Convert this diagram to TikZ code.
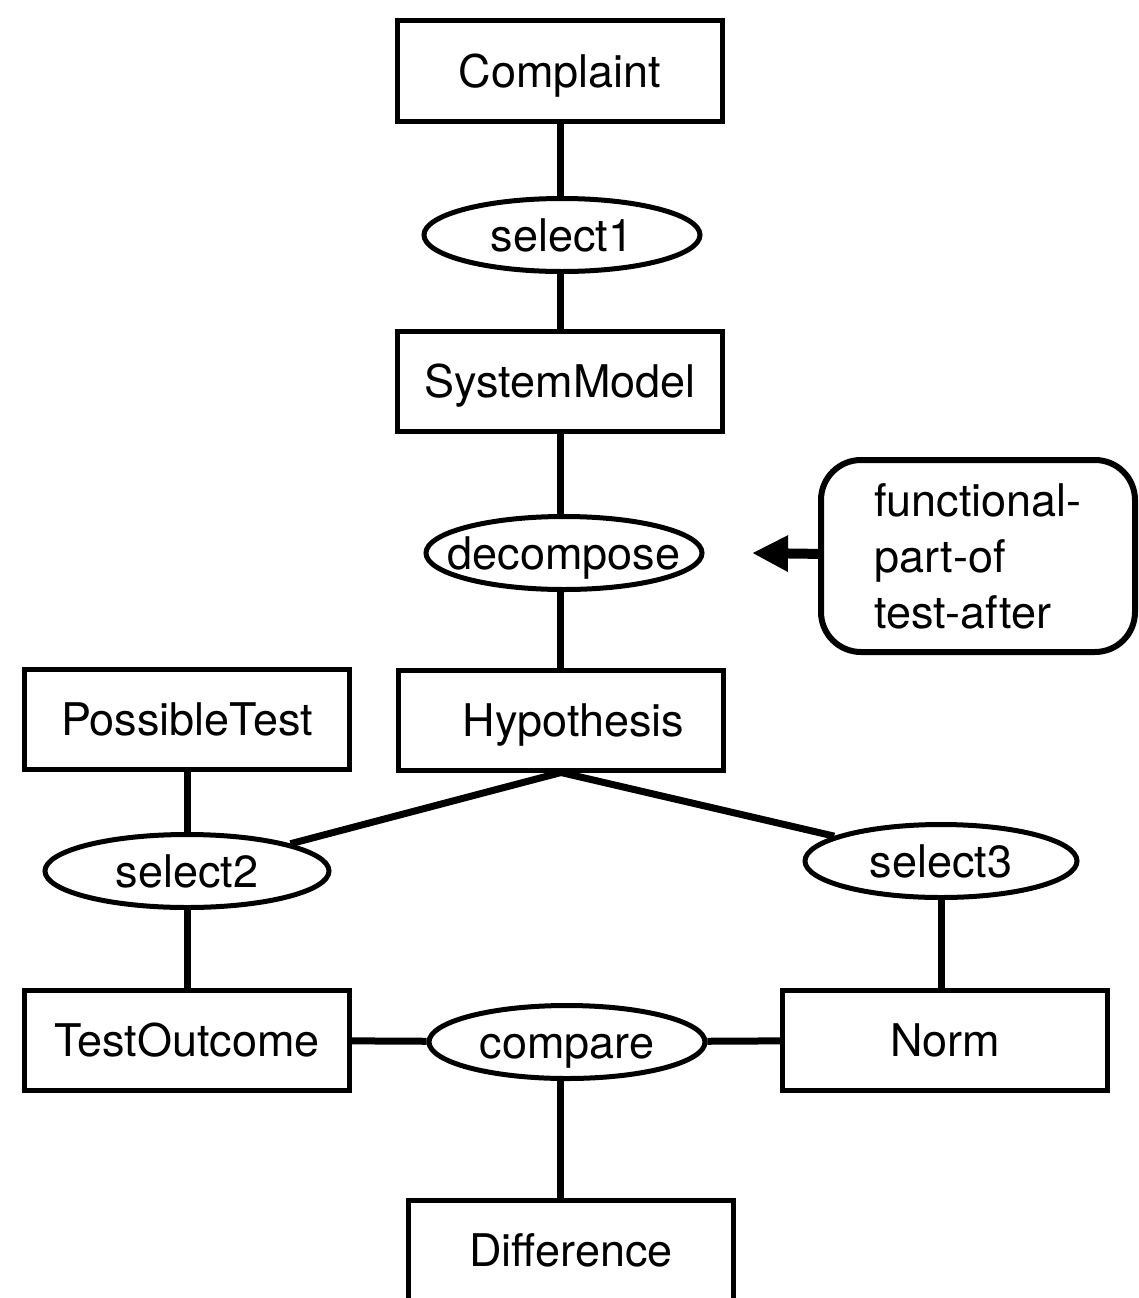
\documentclass[tikz,border=0pt]{standalone}
\usepackage{fontspec}
\setmainfont{TeX Gyre Heros}
\usetikzlibrary{shapes.geometric}
\usetikzlibrary{arrows.meta}

\begin{document}
\begin{tikzpicture}[x=1pt,y=-1pt,
        font=\fontsize{45}{56}\selectfont,
        cbox/.style={rectangle,draw,line width=5pt,minimum width=325pt,minimum height=100pt,inner sep=0pt,text height=33pt,text depth=0pt},
        rel/.style={ellipse,draw,line width=5pt,minimum width=276pt,minimum height=73pt,inner xsep=-50pt,inner ysep=0pt,text height=33pt,text depth=0pt},
        link/.style={line width=7pt}]
        \useasboundingbox (0,0) rectangle (1138,1298);

        \node[cbox] (complaint) at (560,71) {Complaint};
        \node[rel] (select1) at (562,235) {select1};
        \node[cbox] (sysmodel) at (560,381) {SystemModel};
        \node[rel] (decompose) at (564,553) {decompose};
        \node[cbox] (hypo) at (561,720) {\hspace*{25pt}Hypothesis};
        \node[cbox] (posstest) at (187,719) {PossibleTest};
        \node[rel,minimum width=284pt] (select2) at (187,871) {select2};
        \node[rel,minimum width=272pt] (select3) at (941,861) {select3};
        \node[cbox] (outcome) at (187,1040) {TestOutcome};
        \node[rel] (compare) at (567,1042) {compare};
        \node[cbox] (norm) at (945,1040) {Norm};
        \node[cbox] (diff) at (571,1250) {Difference};
        \node[rectangle,draw,line width=6pt,rounded corners=40pt,minimum width=314pt,minimum height=192pt,align=left] (note) at (978,556) {functional-\\part-of\\test-after};
        \coordinate (tip) at (752,553);

        \draw[link] (complaint) -- (complaint |- select1.north);
        \draw[link] (complaint |- select1.south) -- (sysmodel);
        \draw[link] (sysmodel) -- (sysmodel |- decompose.north);
        \draw[link] (sysmodel |- decompose.south) -- (hypo.north -| sysmodel);
        \draw[link] (hypo.south) -- (select2);
        \draw[link] (hypo.south) -- (select3);
        \draw[link] (posstest) -- (select2);
        \draw[link] (select2) -- (outcome);
        \draw[link] (select3) -- (select3 |- norm.north);
        \draw[link] (outcome) -- (compare);
        \draw[link] (compare) -- (norm);
        \draw[link] (diff.north -| sysmodel) -- (sysmodel |- compare.south);
        \draw[line width=10pt,-{Triangle[length=36pt,width=34pt]}] (note) -- (tip);

    \end{tikzpicture}
\end{document}
